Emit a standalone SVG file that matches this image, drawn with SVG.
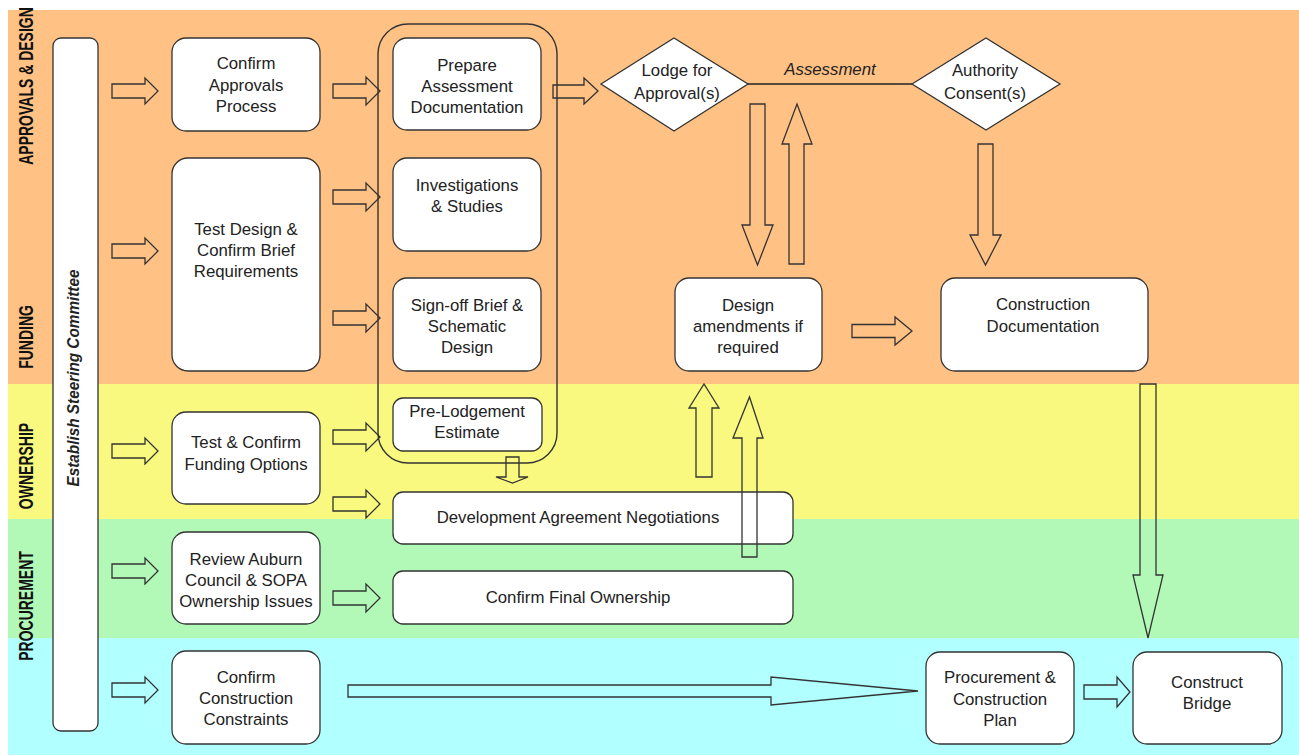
<svg xmlns="http://www.w3.org/2000/svg" width="1299" height="755" viewBox="0 0 1299 755">
<defs>
<style>
.node{fill:#fff;stroke:#333;stroke-width:1.3}
.grp{fill:none;stroke:#333;stroke-width:1.4}
.t{font-family:"Liberation Sans",Arial,sans-serif;font-size:16.8px;fill:#222;text-anchor:middle}
.lane{font-family:"Liberation Sans",Arial,sans-serif;font-size:14px;font-weight:bold;fill:#111;text-anchor:middle}
.arr{fill:none;stroke:#333;stroke-width:1.3;stroke-linejoin:miter}
.ln{stroke:#222;stroke-width:1.3;fill:none}
</style>
</defs>
<rect x="0" y="0" width="1299" height="755" fill="#fff"/>
<g id="lanes">
<rect x="8" y="10" width="1291" height="374" fill="#FFC184"/>
<rect x="8" y="384" width="1291" height="135" fill="#F9F97F"/>
<rect x="8" y="519" width="1291" height="119" fill="#B2F9B8"/>
<rect x="8" y="638" width="1291" height="117" fill="#B2FFFF"/>
<text class="lane" transform="translate(33,86) rotate(-90) scale(1,1.4)">APPROVALS &amp; DESIGN</text>
<text class="lane" transform="translate(33,337) rotate(-90) scale(1,1.4)">FUNDING</text>
<text class="lane" transform="translate(33,466) rotate(-90) scale(1,1.4)">OWNERSHIP</text>
<text class="lane" transform="translate(33,606) rotate(-90) scale(1,1.4)">PROCUREMENT</text>
</g>
<g id="steering">
<rect class="node" x="53" y="38" width="45" height="693" rx="8"/>
<text transform="translate(79,378) rotate(-90)" style="font-family:'Liberation Sans',Arial,sans-serif;font-size:17px;font-weight:bold;font-style:italic;fill:#222;text-anchor:middle" textLength="217" lengthAdjust="spacingAndGlyphs">Establish Steering Committee</text>
</g>
<g id="group-assessment">
<rect class="grp" x="378" y="24" width="179" height="439" rx="30"/>
</g>
<g id="confirm-approvals">
<rect class="node" x="172" y="38" width="148" height="93" rx="14"/>
<text class="t" x="246" y="69">Confirm</text><text class="t" x="246" y="91">Approvals</text><text class="t" x="246" y="112">Process</text>
</g>
<g id="test-design">
<rect class="node" x="172" y="158" width="148" height="213" rx="16"/>
<text class="t" x="246" y="235">Test Design &amp;</text><text class="t" x="246" y="256">Confirm Brief</text><text class="t" x="246" y="277">Requirements</text>
</g>
<g id="funding-options">
<rect class="node" x="172" y="412" width="148" height="92" rx="14"/>
<text class="t" x="246" y="448">Test &amp; Confirm</text><text class="t" x="246" y="470">Funding Options</text>
</g>
<g id="review-auburn">
<rect class="node" x="172" y="532" width="148" height="92" rx="14"/>
<text class="t" x="246" y="565">Review Auburn</text><text class="t" x="246" y="586">Council &amp; SOPA</text><text class="t" x="246" y="607">Ownership Issues</text>
</g>
<g id="construction-constraints">
<rect class="node" x="172" y="651" width="148" height="93" rx="14"/>
<text class="t" x="246" y="683">Confirm</text><text class="t" x="246" y="704">Construction</text><text class="t" x="246" y="725">Constraints</text>
</g>
<g id="prepare-assessment">
<rect class="node" x="393" y="38" width="148" height="92" rx="14"/>
<text class="t" x="467" y="71">Prepare</text><text class="t" x="467" y="92">Assessment</text><text class="t" x="467" y="113">Documentation</text>
</g>
<g id="investigations">
<rect class="node" x="393" y="158" width="148" height="93" rx="14"/>
<text class="t" x="467" y="191">Investigations</text><text class="t" x="467" y="212">&amp; Studies</text>
</g>
<g id="signoff-brief">
<rect class="node" x="393" y="278" width="148" height="93" rx="14"/>
<text class="t" x="467" y="311">Sign-off Brief &amp;</text><text class="t" x="467" y="332">Schematic</text><text class="t" x="467" y="353">Design</text>
</g>
<g id="pre-lodgement">
<rect class="node" x="393" y="398" width="149" height="53" rx="10"/>
<text class="t" x="467" y="417">Pre-Lodgement</text><text class="t" x="467" y="438">Estimate</text>
</g>
<g id="dev-agreement">
<rect class="node" x="393" y="492" width="400" height="52" rx="10"/>
<text class="t" x="578" y="523">Development Agreement Negotiations</text>
</g>
<g id="final-ownership">
<rect class="node" x="393" y="571" width="400" height="53" rx="10"/>
<text class="t" x="578" y="603">Confirm Final Ownership</text>
</g>
<g id="lodge">
<polygon class="node" points="601,84 674,38 748,84 674,131"/>
<text class="t" x="677" y="76">Lodge for</text><text class="t" x="677" y="99">Approval(s)</text>
</g>
<g id="authority">
<polygon class="node" points="912,84 986,38 1060,84 986,130"/>
<text class="t" x="985" y="76">Authority</text><text class="t" x="985" y="99">Consent(s)</text>
</g>
<g id="design-amendments">
<rect class="node" x="675" y="278" width="147" height="93" rx="14"/>
<text class="t" x="748" y="311">Design</text><text class="t" x="748" y="332">amendments if</text><text class="t" x="748" y="353">required</text>
</g>
<g id="construction-documentation">
<rect class="node" x="941" y="278" width="207" height="93" rx="14"/>
<text class="t" x="1043" y="310">Construction</text><text class="t" x="1043" y="332">Documentation</text>
</g>
<g id="procurement-plan">
<rect class="node" x="926" y="652" width="148" height="92" rx="14"/>
<text class="t" x="1000" y="683">Procurement &amp;</text><text class="t" x="1000" y="705">Construction</text><text class="t" x="1000" y="726">Plan</text>
</g>
<g id="construct-bridge">
<rect class="node" x="1133" y="652" width="149" height="92" rx="14"/>
<text class="t" x="1207" y="688">Construct</text><text class="t" x="1207" y="709">Bridge</text>
</g>
<g id="connectors">
<line class="ln" x1="748" y1="84" x2="912" y2="84"/>
<text x="830" y="75" style="font-family:'Liberation Sans',Arial,sans-serif;font-size:16.8px;font-style:italic;fill:#222;text-anchor:middle">Assessment</text>
<polygon class="arr" points="112,84 145,84 145,78 158,91 145,104 145,98 112,98"/>
<polygon class="arr" points="112,244 145,244 145,238 158,251 145,264 145,258 112,258"/>
<polygon class="arr" points="112,444 145,444 145,438 158,451 145,464 145,458 112,458"/>
<polygon class="arr" points="112,564 145,564 145,558 158,571 145,584 145,578 112,578"/>
<polygon class="arr" points="112,683 145,683 145,677 158,690 145,703 145,697 112,697"/>
<polygon class="arr" points="333,84 366,84 366,77 380,91 366,105 366,98 333,98"/>
<polygon class="arr" points="333,190 366,190 366,183 380,197 366,211 366,204 333,204"/>
<polygon class="arr" points="333,311 366,311 366,304 380,318 366,332 366,325 333,325"/>
<polygon class="arr" points="333,430 366,430 366,423 380,437 366,451 366,444 333,444"/>
<polygon class="arr" points="333,497 366,497 366,490 380,504 366,518 366,511 333,511"/>
<polygon class="arr" points="333,591 366,591 366,584 380,598 366,612 366,605 333,605"/>
<polygon class="arr" points="553,85 584,85 584,78 598,91 584,104 584,98 553,98"/>
<polygon class="arr" points="750,104 765,104 765,225 773,225 757.5,265 742,225 750,225"/>
<polygon class="arr" points="789,264 804,264 804,144 812,144 797,104 782,144 789,144"/>
<polygon class="arr" points="978,144 993,144 993,235 1001,235 985.5,265 970,235 978,235"/>
<polygon class="arr" points="852,324.5 895,324.5 895,317 912,331 895,345 895,337.5 852,337.5"/>
<polygon class="arr" points="506,457 519,457 519,477 528,477 512.5,483 496,477 506,477"/>
<polygon class="arr" points="696,477 712,477 712,408 719,408 704,384 689,408 696,408"/>
<polygon class="arr" points="742,557 757,557 757,438 763,438 749.5,397 733,438 742,438"/>
<polygon class="arr" points="1140,384 1156,384 1156,575 1163,575 1148,638 1133,575 1140,575"/>
<polygon class="arr" points="348,685 771,685 771,677 918,691 771,705 771,697 348,697"/>
<polygon class="arr" points="1084,685 1117,685 1117,677 1130,692 1117,707 1117,699 1084,699"/>
</g>
</svg>
